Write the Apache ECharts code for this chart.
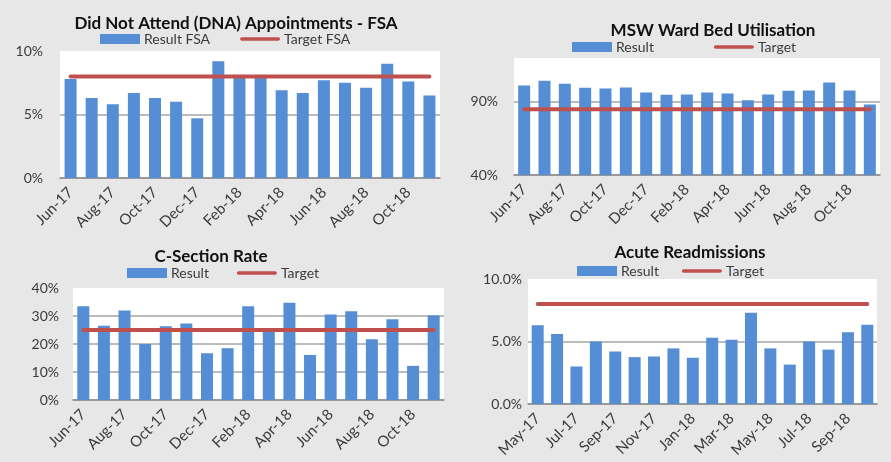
<!DOCTYPE html>
<html>
<head>
<meta charset="utf-8">
<script src="https://cdn.jsdelivr.net/npm/echarts@6/dist/echarts.min.js"></script>
<style>
  html, body { margin: 0; padding: 0; background: #e7e7e7; }
  #chart { width: 891px; height: 462px; }
</style>
</head>
<body>
<div id="chart"></div>
<script>
// months
const monthsJun = ['Jun-17', 'Jul-17', 'Aug-17', 'Sep-17', 'Oct-17', 'Nov-17', 'Dec-17', 'Jan-18', 'Feb-18',
  'Mar-18', 'Apr-18', 'May-18', 'Jun-18', 'Jul-18', 'Aug-18', 'Sep-18', 'Oct-18', 'Nov-18'];
const monthsMay = ['May-17', 'Jun-17', 'Jul-17', 'Aug-17', 'Sep-17', 'Oct-17', 'Nov-17', 'Dec-17', 'Jan-18',
  'Feb-18', 'Mar-18', 'Apr-18', 'May-18', 'Jun-18', 'Jul-18', 'Aug-18', 'Sep-18', 'Oct-18'];

// DNA appointments (%)
const dnaResult = [7.8, 6.3, 5.8, 6.7, 6.3, 6.0, 4.7, 9.2, 7.9, 7.9, 6.9, 6.7, 7.7, 7.5, 7.1, 9.0, 7.6, 6.5];
const dnaTarget = [8, 8, 8, 8, 8, 8, 8, 8, 8, 8, 8, 8, 8, 8, 8, 8, 8, 8];

// MSW ward bed utilisation (%)
const bedResult = [101.2, 104.4, 102.4, 99.6, 99.2, 99.9, 96.4, 94.8, 95.0, 96.4, 95.7, 91.1, 95.0, 97.6, 97.8, 103.3, 97.8, 88.2];
const bedTarget = [85, 85, 85, 85, 85, 85, 85, 85, 85, 85, 85, 85, 85, 85, 85, 85, 85, 85];

// C-section rate (%)
const csResult = [33.5, 26.5, 32.0, 20.0, 26.3, 27.3, 16.7, 18.5, 33.5, 24.6, 34.7, 16.1, 30.5, 31.7, 21.7, 28.8, 12.2, 30.2];
const csTarget = [25, 25, 25, 25, 25, 25, 25, 25, 25, 25, 25, 25, 25, 25, 25, 25, 25, 25];

// acute readmissions (%)
const readmResult = [6.3, 5.6, 3.0, 5.0, 4.2, 3.75, 3.8, 4.45, 3.7, 5.3, 5.15, 7.3, 4.45, 3.15, 5.0, 4.35, 5.75, 6.35];
const readmTarget = [8, 8, 8, 8, 8, 8, 8, 8, 8, 8, 8, 8, 8, 8, 8, 8, 8, 8];

const FONT = 'Lato';
const TEXT = '#3a3a3a';
const BAR = '#558ed5';
const LINE = '#c0504d';
const GRIDLINE = '#a5a5a5';
// flat rounded bar used as the legend mark of the target lines
const LINE_ICON = 'path://M2,0 H42 A2,2 0 0 1 42,4 H2 A2,2 0 0 1 2,0 Z';

const chart = echarts.init(document.getElementById('chart'));

const mkTitle = (text, x, y) => ({
  text,
  left: x,
  top: y,
  textAlign: 'center',
  textStyle: { fontFamily: FONT, fontSize: 17, fontWeight: 'bold', color: '#111' }
});

const mkLegend = (barName, lineName, x, y, gap) => ({
  data: [
    { name: barName, icon: 'rect' },
    { name: lineName, icon: LINE_ICON, itemStyle: { color: LINE, borderWidth: 0 } }
  ],
  left: x,
  top: y,
  itemWidth: 40,
  itemHeight: 10,
  itemGap: gap,
  padding: 0,
  selectedMode: false,
  textStyle: { fontFamily: FONT, fontSize: 14, color: TEXT, padding: [0, 0, 0, -1] }
});

const mkX = (idx, data) => ({
  type: 'category',
  gridIndex: idx,
  data,
  axisTick: { show: false },
  axisLine: { lineStyle: { color: '#8f8f8f', width: 1.5 } },
  axisLabel: {
    interval: 1,
    rotate: 45,
    margin: 12,
    fontFamily: FONT,
    fontSize: 15,
    color: TEXT
  }
});

const mkY = (idx, min, max, interval, fmt, margin) => ({
  type: 'value',
  gridIndex: idx,
  min,
  max,
  interval,
  axisLine: { show: false },
  axisTick: { show: false },
  splitLine: { showMaxLine: false, lineStyle: { color: GRIDLINE, width: 1.5 } },
  axisLabel: {
    showMaxLabel: max % interval === 0,
    margin,
    fontFamily: FONT,
    fontSize: 14,
    color: TEXT,
    formatter: fmt
  }
});

const mkBar = (name, idx, data) => ({
  name,
  type: 'bar',
  xAxisIndex: idx,
  yAxisIndex: idx,
  data,
  barWidth: 12,
  itemStyle: { color: BAR },
  animation: false
});

const mkLine = (name, idx, data) => ({
  name,
  type: 'line',
  xAxisIndex: idx,
  yAxisIndex: idx,
  data,
  symbol: 'none',
  lineStyle: { color: LINE, width: 4, cap: 'round' },
  itemStyle: { color: LINE },
  z: 5,
  animation: false
});

const pct = v => v + '%';
const pct1 = v => v.toFixed(1) + '%';

const option = {
  backgroundColor: '#e7e7e7',
  animation: false,
  title: [
    mkTitle('Did Not Attend (DNA) Appointments - FSA', 231, 10),
    mkTitle('MSW Ward Bed Utilisation', 708, 17),
    mkTitle('C-Section Rate', 206, 243),
    mkTitle('Acute Readmissions', 685, 239)
  ],
  legend: [
    mkLegend('Result FSA', 'Target FSA', 100, 32, 30),
    mkLegend('Result', 'Target', 572, 40, 60),
    mkLegend('Result', 'Target', 127, 266, 28),
    mkLegend('Result', 'Target', 577, 264, 23)
  ],
  grid: [
    { left: 60, top: 51, width: 380, height: 127, backgroundColor: '#fff', show: true, borderWidth: 0 },
    { left: 514, top: 58, width: 366, height: 117, backgroundColor: '#fff', show: true, borderWidth: 0 },
    { left: 73, top: 288, width: 371, height: 112, backgroundColor: '#fff', show: true, borderWidth: 0 },
    { left: 528, top: 279, width: 349, height: 125, backgroundColor: '#fff', show: true, borderWidth: 0 }
  ],
  xAxis: [
    mkX(0, monthsJun),
    mkX(1, monthsJun),
    mkX(2, monthsJun),
    mkX(3, monthsMay)
  ],
  yAxis: [
    mkY(0, 0, 10, 5, pct, 17),
    mkY(1, 40, 120, 50, pct, 16),
    mkY(2, 0, 40, 10, pct, 14),
    mkY(3, 0, 10, 5, pct1, 6)
  ],
  series: [
    mkBar('Result FSA', 0, dnaResult),
    mkLine('Target FSA', 0, dnaTarget),
    mkBar('Result', 1, bedResult),
    mkLine('Target', 1, bedTarget),
    mkBar('Result', 2, csResult),
    mkLine('Target', 2, csTarget),
    mkBar('Result', 3, readmResult),
    mkLine('Target', 3, readmTarget)
  ]
};

chart.setOption(option);
</script>
</body>
</html>
